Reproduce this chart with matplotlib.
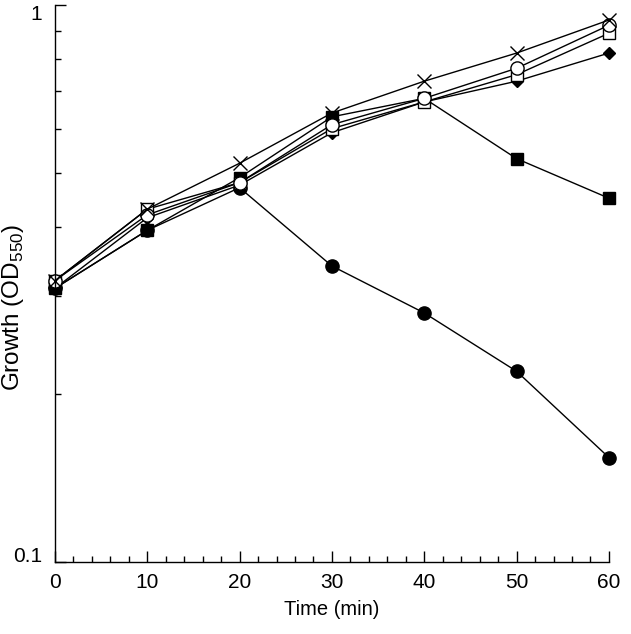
import matplotlib
matplotlib.use("Agg")
import matplotlib.pyplot as plt
from matplotlib.ticker import FixedLocator, NullFormatter, MultipleLocator

plt.rcParams['font.family'] = ['Liberation Sans', 'DejaVu Sans']
plt.rcParams['mathtext.fontset'] = 'custom'
plt.rcParams['mathtext.rm'] = 'Liberation Sans'

time = [0, 10, 20, 30, 40, 50, 60]
cross = [0.32, 0.43, 0.52, 0.64, 0.73, 0.82, 0.94]
open_circle = [0.32, 0.42, 0.48, 0.61, 0.68, 0.77, 0.92]
open_square = [0.32, 0.43, 0.48, 0.60, 0.67, 0.75, 0.89]
filled_diamond = [0.31, 0.415, 0.475, 0.59, 0.67, 0.73, 0.82]
filled_square = [0.31, 0.394, 0.49, 0.63, 0.68, 0.53, 0.45]
filled_circle = [0.31, 0.394, 0.47, 0.34, 0.28, 0.22, 0.154]

fig = plt.figure(figsize=(6.31, 6.34), dpi=100)
ax = fig.add_axes([0.087, 0.1136, 0.878, 0.8784])

kw = dict(color='black', linewidth=1.0)
ax.plot(time, filled_circle, marker='o', markersize=9.5, markerfacecolor='black', markeredgecolor='black', **kw)
ax.plot(time, filled_square, marker='s', markersize=9, markerfacecolor='black', markeredgecolor='black', **kw)
ax.plot(time, filled_diamond, marker='D', markersize=6, markerfacecolor='black', markeredgecolor='black', **kw)
ax.plot(time, open_square, marker='s', markersize=8, markerfacecolor='white', markeredgecolor='black', markeredgewidth=1.0, **kw)
ax.plot(time, open_circle, marker='o', markersize=9.5, markerfacecolor='white', markeredgecolor='black', markeredgewidth=1.0, **kw)
ax.plot(time, cross, marker='x', markersize=10, markeredgewidth=1.0, **kw)

ax.set_yscale('log')
ax.set_ylim(0.1, 1)
ax.set_xlim(0, 60)
ax.yaxis.set_major_locator(FixedLocator([0.1, 1]))
ax.yaxis.set_minor_locator(FixedLocator([0.2, 0.3, 0.4, 0.5, 0.6, 0.7, 0.8, 0.9]))
ax.yaxis.set_minor_formatter(NullFormatter())
ax.set_yticklabels(['0.1', '1'])
ax.xaxis.set_major_locator(MultipleLocator(10))
ax.xaxis.set_minor_locator(MultipleLocator(2))

for s in ['top', 'right']:
    ax.spines[s].set_visible(False)
for s in ['left', 'bottom']:
    ax.spines[s].set_linewidth(1.0)

ax.tick_params(axis='both', which='major', direction='in', length=8, width=1, labelsize=15)
ax.tick_params(axis='both', which='minor', direction='in', length=4, width=1)
ax.tick_params(axis='x', which='major', pad=8)
ax.tick_params(axis='y', which='major', pad=9)

ylabs = ax.get_yticklabels()
ylabs[0].set_verticalalignment('baseline')
ylabs[1].set_verticalalignment('top')

ax.set_xlabel('Time (min)', fontsize=14.5, labelpad=6)
fig.text(13 / 631, 1 - 307 / 634, 'Growth (OD$_{550}$)', fontsize=17.5,
         rotation=90, ha='center', va='center')
for l in ax.lines:
    l.set_clip_on(False)

fig.savefig('out.png', dpi=100)
